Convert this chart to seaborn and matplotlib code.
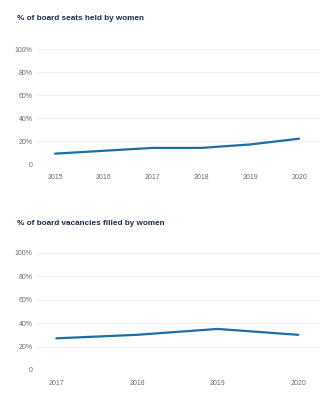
import matplotlib
matplotlib.use("Agg")
import matplotlib.pyplot as plt
import seaborn as sns
import pandas as pd

seats_years = [2015, 2016, 2017, 2018, 2019, 2020]
seats_pct = [9, 11.5, 14, 14, 17, 22]
vac_years = [2017, 2018, 2019, 2020]
vac_pct = [27, 30, 35, 30]
y_ticks = [0, 20, 40, 60, 80, 100]
y_tick_labels = ["0", "20%", "40%", "60%", "80%", "100%"]
titles = ["% of board seats held by women", "% of board vacancies filled by women"]

sns.set_theme(style="white")
plt.rcParams['font.family'] = ['Liberation Sans', 'DejaVu Sans']

W, H = 330, 397
fig = plt.figure(figsize=(W / 100, H / 100), dpi=100)
fig.patch.set_facecolor("white")

LINE = "#1c6ea4"
TITLE_C = "#1b2a47"
TICK_C = "#6b6b6b"
GRID_C = "#efefef"


def px_axes(left, top, right, bottom):
    return fig.add_axes([left / W, 1 - bottom / H, (right - left) / W, (bottom - top) / H])


def style(ax, years, xlim):
    ax.set_ylim(0, 100)
    ax.set_xlim(*xlim)
    ax.set_yticks(y_ticks)
    ax.set_yticklabels(y_tick_labels)
    ax.set_xticks(years)
    ax.set_xticklabels([str(y) for y in years])
    for s in ax.spines.values():
        s.set_visible(False)
    ax.grid(axis="y", color=GRID_C, linewidth=0.8)
    ax.grid(axis="x", visible=False)
    ax.tick_params(axis="y", length=0, pad=3, labelsize=5, labelcolor=TICK_C)
    ax.tick_params(axis="x", length=0, pad=7, labelsize=5, labelcolor=TICK_C)
    ax.set_xlabel("")
    ax.set_ylabel("")
    ax.set_axisbelow(True)
    ax.patch.set_alpha(0)


df1 = pd.DataFrame({"year": seats_years, "pct": seats_pct})
ax1 = px_axes(37, 49, 320, 164)
sns.lineplot(data=df1, x="year", y="pct", ax=ax1, color=LINE, linewidth=1.6)
style(ax1, seats_years, (2014.63, 2020.43))
for l in ax1.lines:
    l.set_clip_on(False)

df2 = pd.DataFrame({"year": vac_years, "pct": vac_pct})
ax2 = px_axes(37, 252.7, 320, 370)
sns.lineplot(data=df2, x="year", y="pct", ax=ax2, color=LINE, linewidth=1.6)
style(ax2, vac_years, (2016.76, 2020.27))
for l in ax2.lines:
    l.set_clip_on(False)

fig.text(17 / W, 1 - 19 / H, titles[0], fontsize=5.9, fontweight="bold", color=TITLE_C,
         ha="left", va="center")
fig.text(17 / W, 1 - 223 / H, titles[1], fontsize=5.9, fontweight="bold", color=TITLE_C,
         ha="left", va="center")

fig.savefig("out.png", dpi=100, facecolor="white")
